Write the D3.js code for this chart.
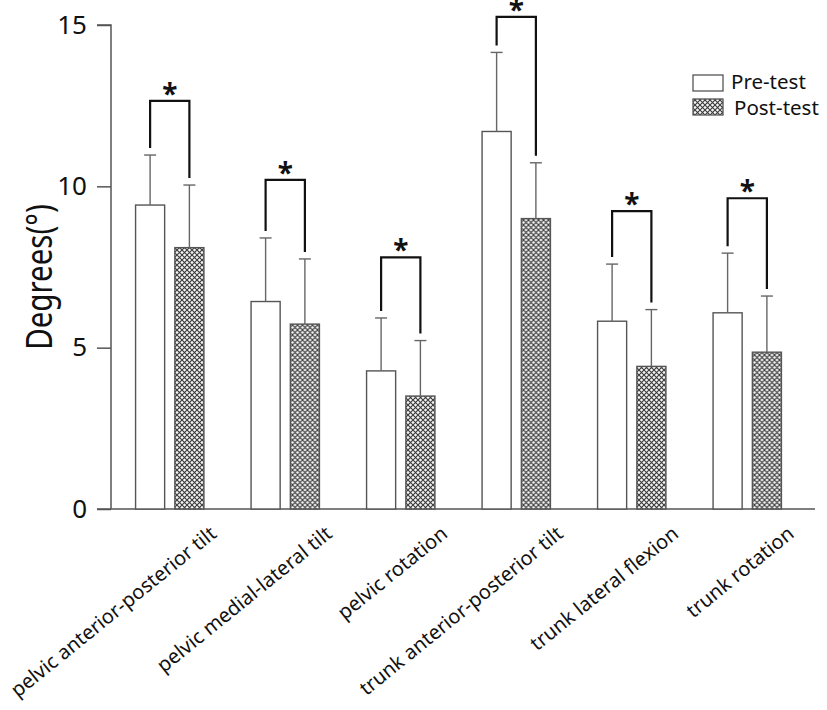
<!DOCTYPE html>
<html><head><meta charset="utf-8">
<script src="https://cdn.jsdelivr.net/npm/d3@7"></script>
<style>body{margin:0;background:#fff}svg{display:block}text{font-family:"Noto Sans","Open Sans",sans-serif}</style>
</head><body><svg id="c" width="827" height="710"></svg>
<script>
const categories = ["pelvic anterior-posterior tilt","pelvic medial-lateral tilt","pelvic rotation","trunk anterior-posterior tilt","trunk lateral flexion","trunk rotation"];
const seriesNames = ["Pre-test","Post-test"];
const preMean = [9.42, 6.43, 4.28, 11.7, 5.82, 6.08];
const preSD   = [1.55, 1.97, 1.64, 2.45, 1.77, 1.85];
const postMean= [8.1, 5.73, 3.5, 9.0, 4.42, 4.86];
const postSD  = [1.94, 2.02, 1.72, 1.73, 1.76, 1.74];
const bracketTop = [12.65, 10.2, 7.8, 15.25, 9.23, 9.63];
const yTicks = [0,5,10,15];

const svg = d3.select("#c");
const y = d3.scaleLinear().domain([0,15]).range([509,25]);
const x = d3.scaleBand().domain(categories).range([112,805]).padding(0);
const xs = d3.scaleBand().domain(seriesNames).range([0,x.bandwidth()]).paddingInner(0.26).paddingOuter(0.6);

const defs = svg.append("defs");
const pat = defs.append("pattern").attr("id","hatch").attr("patternUnits","userSpaceOnUse").attr("width",5).attr("height",5);
pat.append("rect").attr("width",5).attr("height",5).attr("fill","#f4f4f4");
pat.append("path").attr("d","M0,0L5,5M5,0L0,5").attr("stroke","#3a3a3a").attr("stroke-width",1.1);

// axes
const yAxis = d3.axisLeft(y).tickValues(yTicks).tickSize(14).tickPadding(10);
const gy = svg.append("g").attr("transform","translate(111,0)").call(yAxis);
gy.select(".domain").attr("stroke","#555").attr("stroke-width",1.5).attr("d","M-14,25H0V509");
gy.selectAll(".tick line").attr("stroke","#555").attr("stroke-width",1.5);
gy.selectAll(".tick text").attr("font-size",26).attr("fill","#111").attr("font-family","Noto Sans, Open Sans, sans-serif");

svg.append("line").attr("x1",97).attr("x2",815).attr("y1",509).attr("y2",509).attr("stroke","#555").attr("stroke-width",1.5);

svg.append("text").attr("transform","translate(52,277) scale(1.22,1) rotate(-90)").attr("text-anchor","middle")
  .attr("font-size",29.5).attr("fill","#111").text("Degrees(°)");

const data = categories.map((c,i)=>({c, vals:[{s:"Pre-test",m:preMean[i],sd:preSD[i]},{s:"Post-test",m:postMean[i],sd:postSD[i]}], top:bracketTop[i]}));

const g = svg.append("g").selectAll("g").data(data).join("g").attr("transform",d=>`translate(${x(d.c)},0)`);
g.selectAll("rect").data(d=>d.vals).join("rect")
  .attr("x",d=>xs(d.s)).attr("width",xs.bandwidth())
  .attr("y",d=>y(d.m)).attr("height",d=>y(0)-y(d.m))
  .attr("fill",d=>d.s==="Pre-test"?"#fff":"url(#hatch)")
  .attr("stroke","#555").attr("stroke-width",1.4);
// error bars
g.selectAll("line.err").data(d=>d.vals).join("line").attr("class","err")
  .attr("x1",d=>xs(d.s)+xs.bandwidth()/2).attr("x2",d=>xs(d.s)+xs.bandwidth()/2)
  .attr("y1",d=>y(d.m)).attr("y2",d=>y(d.m+d.sd)).attr("stroke","#666").attr("stroke-width",1.4);
g.selectAll("line.cap").data(d=>d.vals).join("line").attr("class","cap")
  .attr("x1",d=>xs(d.s)+xs.bandwidth()/2-6).attr("x2",d=>xs(d.s)+xs.bandwidth()/2+6)
  .attr("y1",d=>y(d.m+d.sd)).attr("y2",d=>y(d.m+d.sd)).attr("stroke","#666").attr("stroke-width",1.4);
// brackets
g.append("path").attr("fill","none").attr("stroke","#111").attr("stroke-width",2.2)
  .attr("d",d=>{
    const xa=xs("Pre-test")+xs.bandwidth()/2, xb=xs("Post-test")+xs.bandwidth()/2;
    const ya=y(d.vals[0].m+d.vals[0].sd)-7, yb=y(d.vals[1].m+d.vals[1].sd)-7, yt=y(d.top);
    return `M${xa},${ya}V${yt}H${xb}V${yb}`;
  });
g.append("text").attr("x",x.bandwidth()/2).attr("y",d=>y(d.top)+3).attr("text-anchor","middle")
  .attr("font-size",28).attr("font-weight","bold").attr("fill","#111").text("*");
// x labels
g.append("text").attr("text-anchor","end").attr("font-size",20).attr("fill","#111")
  .attr("transform",`translate(${x.bandwidth()/2+48},536) rotate(-39)`).text(d=>d.c);

// legend
const legend = svg.append("g");
seriesNames.forEach((s,i)=>{
  legend.append("rect").attr("x",693).attr("y",75+i*24).attr("width",30).attr("height",16)
    .attr("fill",i===0?"#fff":"url(#hatch)").attr("stroke","#555").attr("stroke-width",1.3);
  legend.append("text").attr("x",i===0?731:734).attr("y",89+i*26).attr("font-size",20.5).attr("fill","#111").text(s);
});
</script></body></html>
